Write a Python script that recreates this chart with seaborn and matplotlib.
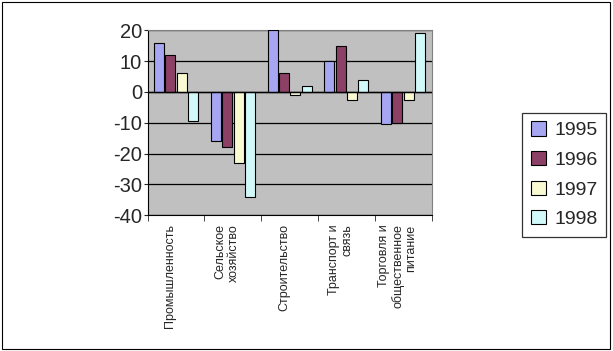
import pandas as pd
import matplotlib.pyplot as plt
import seaborn as sns
import numpy as np
from matplotlib.patches import Rectangle

# Data
sectors = ['Промышленность', 'Сельское\nхозяйство', 'Строительство',
           'Транспорт и\nсвязь', 'Торговля и\nобщественное\nпитание']
years = ['1995', '1996', '1997', '1998']
v1995 = [16, -16, 20, 10, -10.5]
v1996 = [12, -18, 6, 15, -10]
v1997 = [6, -23, -1, -2.5, -2.5]
v1998 = [-9.5, -34, 2, 4, 19]
colors = ['#9999FF', '#993366', '#FFFFCC', '#CCFFFF']

df = pd.DataFrame({
    'sector': np.repeat(sectors, len(years)),
    'year': years * len(sectors),
    'value': np.ravel(np.column_stack([v1995, v1996, v1997, v1998])),
})

sns.set_style('white')
plt.rcParams['font.family'] = ['Liberation Sans', 'DejaVu Sans']
plt.rcParams['axes.unicode_minus'] = False

fig = plt.figure(figsize=(6.13, 3.51), dpi=100)
ax = fig.add_axes([0.241, 0.387, 0.463, 0.527])
ax.set_facecolor('#C0C0C0')

sns.barplot(data=df, x='sector', y='value', hue='year', palette=colors,
            edgecolor='black', linewidth=0.8, width=0.8, gap=0.12, ax=ax, zorder=3)

ax.set_ylim(-40, 20)
ax.set_yticks(np.arange(-40, 21, 10))
ax.yaxis.grid(True, color='black', linewidth=0.9, zorder=0)
ax.set_axisbelow(True)
ax.axhline(0, color='black', linewidth=1.0, zorder=4)
ax.tick_params(axis='y', labelsize=14.5, length=3, left=True, pad=1)
ax.set_xlabel('')
ax.set_ylabel('')

ax.set_xticks(range(len(sectors)))
ax.set_xticklabels([])
ax.set_xticks(np.arange(-0.5, len(sectors), 1), minor=True)
ax.tick_params(axis='x', which='minor', length=4, bottom=True)
ax.tick_params(axis='x', which='major', length=0)
for i, s in enumerate(sectors):
    ax.text(i - 0.1, -0.05, s, transform=ax.get_xaxis_transform(),
            rotation=90, ha='center', va='top', multialignment='right',
            fontsize=9, linespacing=1.1)

for side in ['top', 'right']:
    ax.spines[side].set_color('#808080')
ax.spines['left'].set_color('black')
ax.spines['bottom'].set_color('black')

leg = ax.legend(loc='center left', bbox_to_anchor=(0.836, 0.502),
                bbox_transform=fig.transFigure, frameon=True,
                fontsize=14, handlelength=0.75, handleheight=0.75,
                labelspacing=0.6, borderpad=0.45, handletextpad=0.45)
leg.get_frame().set_edgecolor('black')
leg.get_frame().set_linewidth(0.9)
leg.get_frame().set_boxstyle('square', pad=0)
for h in leg.legend_handles:
    h.set_edgecolor('black')
    h.set_linewidth(0.8)

fig.patches.append(Rectangle((0.003, 0.005), 0.992, 0.99, transform=fig.transFigure,
                             fill=False, edgecolor='black', linewidth=0.8))

plt.savefig('out.png', dpi=100)
plt.close()
